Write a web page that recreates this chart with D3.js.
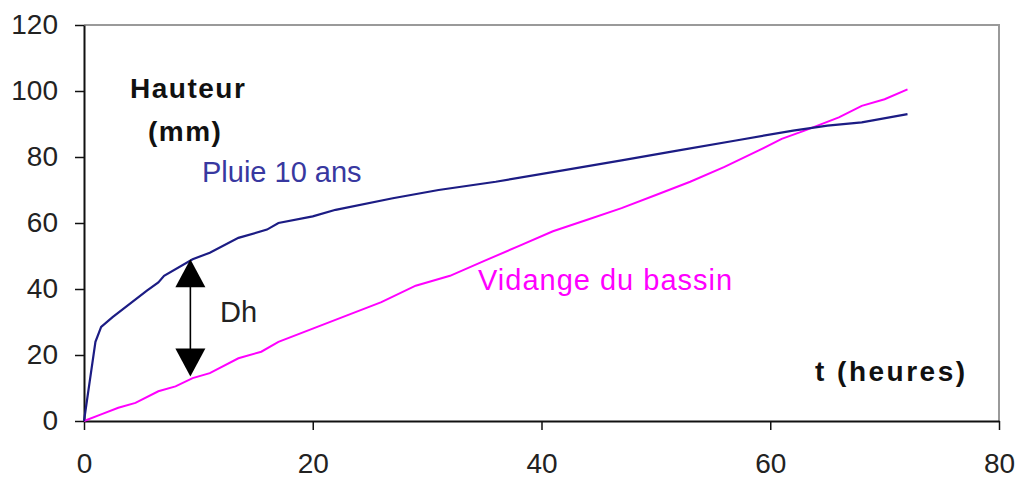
<!DOCTYPE html>
<html><head><meta charset="utf-8">
<script src="https://cdn.jsdelivr.net/npm/d3@7"></script>
<style>body{margin:0;background:#fff}svg{display:block}text{font-family:"Liberation Sans",Arial,sans-serif}</style>
</head><body><svg id="c" width="1019" height="481"></svg>
<script>
const xTicks = [0, 20, 40, 60, 80];
const yTicks = [0, 20, 40, 60, 80, 100, 120];
const pluieT = [0,0.5,1,1.5,2.5,4,5.5,6.5,7,9.5,11,13.5,16,17,20,22,27,31,36,42,47,52,57,62,65,68,72];
const pluieH = [0,12,24,28.5,31.5,35.5,39.5,42,44,49,51,55.5,58,60,62,64,67.5,70,72.5,76,79,82,85,88,89.5,90.5,93];
const vidT = [0,1.5,3,4.5,6.5,8,9.5,11,13.5,15.5,17,20,23,26,29,32,35,38,41,44,47,50,53,56,59,61,63,66,68,70,72];
const vidH = [0,2,4,5.5,9,10.5,13,14.5,19,21,24,28,32,36,41,44,48.5,53,57.5,61,64.5,68.5,72.5,77,82,85.5,88,92,95.5,97.5,100.5];
const dh = {t: 9.3, top: 49, bottom: 13.5};

const svg = d3.select('#c');
const L = 84, R = 999, T = 25, B = 421;
const x = d3.scaleLinear().domain([0, 80]).range([L, R]);
const y = d3.scaleLinear().domain([0, 120]).range([B, T]);

svg.append('path').attr('d', `M${L},${T}H${R}V${B}`).attr('fill','none').attr('stroke','#9a9a9a').attr('stroke-width',2);

const xa = svg.append('g').attr('transform',`translate(0,${B})`)
  .call(d3.axisBottom(x).tickValues(xTicks).tickSize(9).tickPadding(23).tickSizeOuter(0));
const ya = svg.append('g').attr('transform',`translate(${L},0)`)
  .call(d3.axisLeft(y).tickValues(yTicks).tickSize(9).tickPadding(17).tickSizeOuter(0));
[xa, ya].forEach(a => {
  a.select('.domain').attr('stroke','#111').attr('stroke-width',2);
  a.selectAll('.tick line').attr('stroke','#111').attr('stroke-width',1.5);
  a.selectAll('.tick text').attr('fill','#222').style('font-size','28px');
});

const line = d3.line().x(d => x(d[0])).y(d => y(d[1]));
const pluie = pluieT.map((t,i) => [t, pluieH[i]]);
const vid = vidT.map((t,i) => [t, vidH[i]]);
svg.append('path').datum(vid).attr('d', line).attr('fill','none').attr('stroke','#ff00ff').attr('stroke-width',2);
svg.append('path').datum(pluie).attr('d', line).attr('fill','none').attr('stroke','#1c1c84').attr('stroke-width',2.2);

const ax = x(dh.t), yt = y(dh.top), yb = y(dh.bottom);
svg.append('line').attr('x1',ax).attr('x2',ax).attr('y1',yt+10).attr('y2',yb-10).attr('stroke','#000').attr('stroke-width',1.6);
svg.append('path').attr('d',`M${ax},${yt}L${ax-15},${yt+28}L${ax+15},${yt+28}Z`).attr('fill','#000');
svg.append('path').attr('d',`M${ax},${yb}L${ax-15},${yb-28}L${ax+15},${yb-28}Z`).attr('fill','#000');

const txt = (s, tx, ty, o) => svg.append('text').attr('x',tx).attr('y',ty).text(s)
  .attr('fill', o.fill || '#222').style('font-size', (o.size||28)+'px')
  .style('font-weight', o.bold ? 'bold' : 'normal').style('letter-spacing', (o.ls||0)+'px');
txt('Dh', 220, 322, {size:29});
txt('Hauteur', 130, 98, {bold:true, size:28, ls:1.5, fill:'#111'});
txt('(mm)', 148, 141, {bold:true, size:28, ls:1.5, fill:'#111'});
txt('t (heures)', 815, 381, {bold:true, size:28, ls:2.5, fill:'#111'});
txt('Pluie 10 ans', 202, 182, {size:29, fill:'#3838a0'});
txt('Vidange du bassin', 478, 290, {size:29, ls:1.0, fill:'#ff00ff'});
</script></body></html>
